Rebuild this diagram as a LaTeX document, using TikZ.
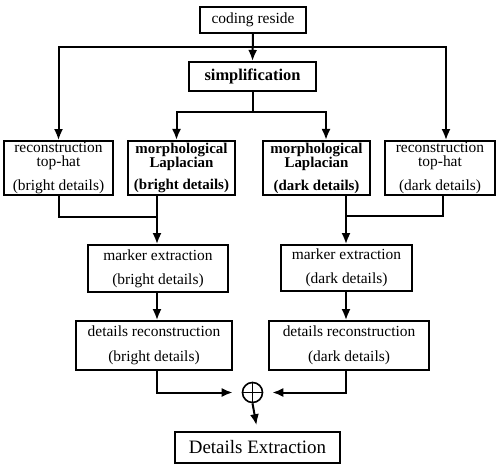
\documentclass[tikz,border=0pt]{standalone}
\usepackage{fontspec}
\setmainfont{Liberation Serif}
\usepackage{tikz}
\usetikzlibrary{positioning, arrows.meta}
\newcommand{\boxfont}{\fontsize{15.5}{14}\selectfont}
\newcommand{\heavyfont}{\fontsize{15}{14}\selectfont\bfseries}
\tikzset{
    procbox/.style   = {draw, line width=1.8bp, align=center, inner sep=0pt, font=\boxfont},
    heavybox/.style  = {procbox, line width=2.1bp, font=\heavyfont},
    filterbox/.style = {minimum height=54bp},
    flow/.style      = {-{Latex[length=11bp, width=9bp]}, line width=2bp},
    tieline/.style   = {line width=2bp},
    sumnode/.style   = {circle, draw, line width=1.6bp, minimum size=20bp, inner sep=0pt}
}

\begin{document}
\begin{tikzpicture}[x=1bp, y=-1bp]
        \useasboundingbox (0,0) rectangle (498,465);

        \node[procbox, minimum width=106bp, minimum height=26bp] (code) at (253,20) {coding reside};
        \node[heavybox, minimum width=127bp, minimum height=29bp,
              font=\fontsize{16.5}{18}\selectfont\bfseries] (simp) at (252.5,76.5) {simplification};

        \node[procbox, filterbox, minimum width=109bp] (rtb) at (58.5,168)
            {reconstruction\\top-hat\\[9bp](bright details)};
        \node[heavybox, filterbox, minimum width=107bp] (mlb) at (181.5,168)
            {morphological\\Laplacian\\[9bp](bright details)};
        \node[heavybox, filterbox, minimum width=107bp] (mld) at (316.5,168)
            {morphological\\Laplacian\\[9bp](dark details)};
        \node[procbox, filterbox, minimum width=110bp] (rtd) at (440,168)
            {reconstruction\\top-hat\\[9bp](dark details)};

        \node[procbox, minimum width=140bp, minimum height=47bp] (markb) at (158,268.5)
            {marker extraction\\[10bp](bright details)};
        \node[procbox, minimum width=131bp, minimum height=46bp] (markd) at (346.5,268)
            {marker extraction\\[10bp](dark details)};

        \node[procbox, minimum width=156bp, minimum height=49bp] (recb) at (154,345.5)
            {details reconstruction\\[11bp](bright details)};
        \node[procbox, minimum width=160bp, minimum height=49bp] (recd) at (349,345.5)
            {details reconstruction\\[11bp](dark details)};

        \node[sumnode] (plus) at (252.5,392.5) {};
        \draw[line width=1.4bp] (plus.north) -- (plus.south) (plus.west) -- (plus.east);

        \node[procbox, minimum width=165bp, minimum height=31bp,
              font=\fontsize{19}{22}\selectfont] (ext) at (257.5,447.5) {Details Extraction};

        % verzweigungen
        \coordinate (topfork) at (253,47);
        \coordinate (simpfork) at (252.5,112);
        \coordinate (leftjoin) at (157,217);
        \coordinate (rightjoin) at (346,216);

        \draw[flow] (code.south) -- (simp.north);
        \draw[flow] (topfork) -| (rtb.north);
        \draw[flow] (topfork) -| ([xshift=6bp]rtd.north);

        \draw[tieline] (simp.south) -- (simpfork);
        \draw[flow] (simpfork) -| ([xshift=-5bp]mlb.north);
        \draw[flow] (simpfork) -| ([xshift=9.5bp]mld.north);

        \draw[tieline] (rtb.south) |- (leftjoin);
        \draw[flow] (mlb.south -| leftjoin) -- (markb.north -| leftjoin);
        \draw[tieline] ([xshift=3bp]rtd.south) |- (rightjoin);
        \draw[flow] (mld.south -| rightjoin) -- (markd.north -| rightjoin);

        \draw[flow] (markb.south -| leftjoin) -- (recb.north -| leftjoin);
        \draw[flow] (markd.south -| rightjoin) -- (recd.north -| rightjoin);

        \draw[flow, shorten >=9bp] (recb.south -| leftjoin) |- (plus.west);
        \draw[flow, shorten >=9bp] (recd.south -| rightjoin) |- (plus.east);
        \draw[flow, shorten >=6bp] (plus.south) -- (ext.north);
    \end{tikzpicture}
\end{document}
